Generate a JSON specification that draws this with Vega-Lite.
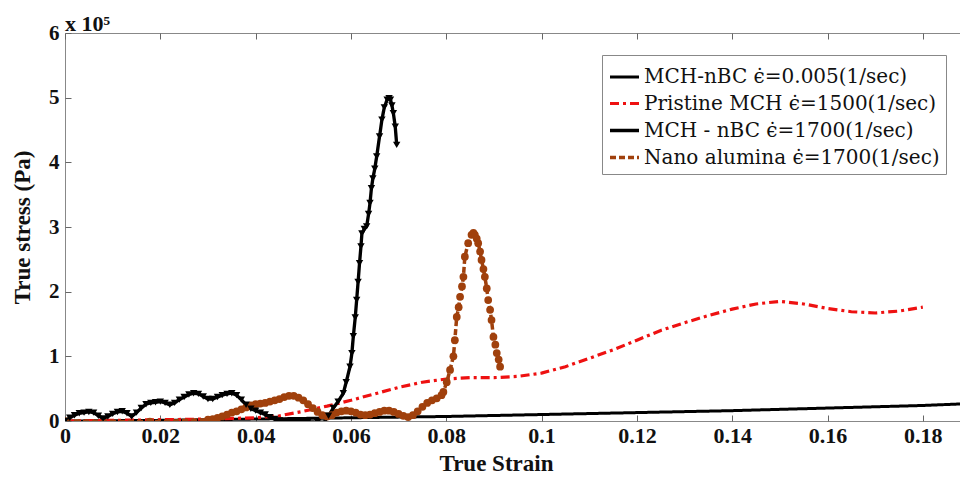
{
  "$schema": "https://vega.github.io/schema/vega-lite/v6.json",
  "width": 895,
  "height": 388,
  "autosize": {"type": "none"},
  "padding": {"left": 65, "top": 33, "right": 0, "bottom": 57},
  "background": "white",
  "title": {
    "text": "x 10⁵",
    "anchor": "start",
    "frame": "group",
    "font": "Liberation Serif",
    "fontSize": 22,
    "fontWeight": "bold",
    "color": "#111",
    "offset": -14
  },
  "config": {
    "view": {"stroke": "#888", "strokeWidth": 1},
    "axis": {
      "domain": false,
      "grid": false,
      "ticks": true,
      "tickColor": "#666",
      "tickWidth": 1,
      "tickSize": 6,
      "offset": -6,
      "zindex": 1,
      "labelFont": "Liberation Serif",
      "labelFontWeight": "bold",
      "labelColor": "#111",
      "titleFont": "Liberation Serif",
      "titleFontWeight": "bold",
      "titleColor": "#111"
    }
  },
  "resolve": {"axis": {"x": "independent"}},
  "datasets": {
    "curves": [
      {"series": "MCH-nBC ϵ̇=0.005(1/sec)", "strain": 0, "stress": 0},
      {"series": "MCH-nBC ϵ̇=0.005(1/sec)", "strain": 0.02, "stress": 1000},
      {"series": "MCH-nBC ϵ̇=0.005(1/sec)", "strain": 0.04, "stress": 3000},
      {"series": "MCH-nBC ϵ̇=0.005(1/sec)", "strain": 0.06, "stress": 5000},
      {"series": "MCH-nBC ϵ̇=0.005(1/sec)", "strain": 0.08, "stress": 7000},
      {"series": "MCH-nBC ϵ̇=0.005(1/sec)", "strain": 0.1, "stress": 10000},
      {"series": "MCH-nBC ϵ̇=0.005(1/sec)", "strain": 0.12, "stress": 13000},
      {"series": "MCH-nBC ϵ̇=0.005(1/sec)", "strain": 0.14, "stress": 16000},
      {"series": "MCH-nBC ϵ̇=0.005(1/sec)", "strain": 0.16, "stress": 20000},
      {"series": "MCH-nBC ϵ̇=0.005(1/sec)", "strain": 0.18, "stress": 24000},
      {"series": "MCH-nBC ϵ̇=0.005(1/sec)", "strain": 0.19, "stress": 27000},

      {"series": "Pristine MCH ϵ̇=1500(1/sec)", "strain": 0, "stress": 0},
      {"series": "Pristine MCH ϵ̇=1500(1/sec)", "strain": 0.01, "stress": 1000},
      {"series": "Pristine MCH ϵ̇=1500(1/sec)", "strain": 0.02, "stress": 2000},
      {"series": "Pristine MCH ϵ̇=1500(1/sec)", "strain": 0.03, "stress": 3000},
      {"series": "Pristine MCH ϵ̇=1500(1/sec)", "strain": 0.04, "stress": 5000},
      {"series": "Pristine MCH ϵ̇=1500(1/sec)", "strain": 0.045, "stress": 8000},
      {"series": "Pristine MCH ϵ̇=1500(1/sec)", "strain": 0.05, "stress": 15000},
      {"series": "Pristine MCH ϵ̇=1500(1/sec)", "strain": 0.055, "stress": 23000},
      {"series": "Pristine MCH ϵ̇=1500(1/sec)", "strain": 0.06, "stress": 32000},
      {"series": "Pristine MCH ϵ̇=1500(1/sec)", "strain": 0.065, "stress": 42000},
      {"series": "Pristine MCH ϵ̇=1500(1/sec)", "strain": 0.07, "stress": 52000},
      {"series": "Pristine MCH ϵ̇=1500(1/sec)", "strain": 0.075, "stress": 60000},
      {"series": "Pristine MCH ϵ̇=1500(1/sec)", "strain": 0.08, "stress": 65000},
      {"series": "Pristine MCH ϵ̇=1500(1/sec)", "strain": 0.085, "stress": 67000},
      {"series": "Pristine MCH ϵ̇=1500(1/sec)", "strain": 0.09, "stress": 67000},
      {"series": "Pristine MCH ϵ̇=1500(1/sec)", "strain": 0.095, "stress": 69000},
      {"series": "Pristine MCH ϵ̇=1500(1/sec)", "strain": 0.1, "stress": 74000},
      {"series": "Pristine MCH ϵ̇=1500(1/sec)", "strain": 0.105, "stress": 84000},
      {"series": "Pristine MCH ϵ̇=1500(1/sec)", "strain": 0.11, "stress": 97000},
      {"series": "Pristine MCH ϵ̇=1500(1/sec)", "strain": 0.115, "stress": 110000},
      {"series": "Pristine MCH ϵ̇=1500(1/sec)", "strain": 0.12, "stress": 125000},
      {"series": "Pristine MCH ϵ̇=1500(1/sec)", "strain": 0.125, "stress": 140000},
      {"series": "Pristine MCH ϵ̇=1500(1/sec)", "strain": 0.13, "stress": 152000},
      {"series": "Pristine MCH ϵ̇=1500(1/sec)", "strain": 0.135, "stress": 163000},
      {"series": "Pristine MCH ϵ̇=1500(1/sec)", "strain": 0.14, "stress": 173000},
      {"series": "Pristine MCH ϵ̇=1500(1/sec)", "strain": 0.145, "stress": 181000},
      {"series": "Pristine MCH ϵ̇=1500(1/sec)", "strain": 0.15, "stress": 185000},
      {"series": "Pristine MCH ϵ̇=1500(1/sec)", "strain": 0.155, "stress": 181000},
      {"series": "Pristine MCH ϵ̇=1500(1/sec)", "strain": 0.16, "stress": 174000},
      {"series": "Pristine MCH ϵ̇=1500(1/sec)", "strain": 0.165, "stress": 169000},
      {"series": "Pristine MCH ϵ̇=1500(1/sec)", "strain": 0.17, "stress": 167000},
      {"series": "Pristine MCH ϵ̇=1500(1/sec)", "strain": 0.175, "stress": 170000},
      {"series": "Pristine MCH ϵ̇=1500(1/sec)", "strain": 0.18, "stress": 176000},

      {"series": "Nano alumina ϵ̇=1700(1/sec)", "strain": 0, "stress": 0},
      {"series": "Nano alumina ϵ̇=1700(1/sec)", "strain": 0.0178, "stress": -1000},
      {"series": "Nano alumina ϵ̇=1700(1/sec)", "strain": 0.03, "stress": 2000},
      {"series": "Nano alumina ϵ̇=1700(1/sec)", "strain": 0.031, "stress": 3000},
      {"series": "Nano alumina ϵ̇=1700(1/sec)", "strain": 0.032, "stress": 5000},
      {"series": "Nano alumina ϵ̇=1700(1/sec)", "strain": 0.033, "stress": 7000},
      {"series": "Nano alumina ϵ̇=1700(1/sec)", "strain": 0.034, "stress": 10000},
      {"series": "Nano alumina ϵ̇=1700(1/sec)", "strain": 0.035, "stress": 13000},
      {"series": "Nano alumina ϵ̇=1700(1/sec)", "strain": 0.036, "stress": 15000},
      {"series": "Nano alumina ϵ̇=1700(1/sec)", "strain": 0.037, "stress": 18000},
      {"series": "Nano alumina ϵ̇=1700(1/sec)", "strain": 0.038, "stress": 21000},
      {"series": "Nano alumina ϵ̇=1700(1/sec)", "strain": 0.039, "stress": 24000},
      {"series": "Nano alumina ϵ̇=1700(1/sec)", "strain": 0.04, "stress": 26000},
      {"series": "Nano alumina ϵ̇=1700(1/sec)", "strain": 0.041, "stress": 27000},
      {"series": "Nano alumina ϵ̇=1700(1/sec)", "strain": 0.042, "stress": 28000},
      {"series": "Nano alumina ϵ̇=1700(1/sec)", "strain": 0.043, "stress": 30000},
      {"series": "Nano alumina ϵ̇=1700(1/sec)", "strain": 0.044, "stress": 32000},
      {"series": "Nano alumina ϵ̇=1700(1/sec)", "strain": 0.045, "stress": 34000},
      {"series": "Nano alumina ϵ̇=1700(1/sec)", "strain": 0.046, "stress": 37000},
      {"series": "Nano alumina ϵ̇=1700(1/sec)", "strain": 0.047, "stress": 39000},
      {"series": "Nano alumina ϵ̇=1700(1/sec)", "strain": 0.048, "stress": 39000},
      {"series": "Nano alumina ϵ̇=1700(1/sec)", "strain": 0.049, "stress": 36000},
      {"series": "Nano alumina ϵ̇=1700(1/sec)", "strain": 0.05, "stress": 32000},
      {"series": "Nano alumina ϵ̇=1700(1/sec)", "strain": 0.051, "stress": 26000},
      {"series": "Nano alumina ϵ̇=1700(1/sec)", "strain": 0.052, "stress": 20000},
      {"series": "Nano alumina ϵ̇=1700(1/sec)", "strain": 0.053, "stress": 14000},
      {"series": "Nano alumina ϵ̇=1700(1/sec)", "strain": 0.054, "stress": 9000},
      {"series": "Nano alumina ϵ̇=1700(1/sec)", "strain": 0.055, "stress": 7000},
      {"series": "Nano alumina ϵ̇=1700(1/sec)", "strain": 0.056, "stress": 9000},
      {"series": "Nano alumina ϵ̇=1700(1/sec)", "strain": 0.057, "stress": 13000},
      {"series": "Nano alumina ϵ̇=1700(1/sec)", "strain": 0.058, "stress": 15000},
      {"series": "Nano alumina ϵ̇=1700(1/sec)", "strain": 0.059, "stress": 16000},
      {"series": "Nano alumina ϵ̇=1700(1/sec)", "strain": 0.06, "stress": 15000},
      {"series": "Nano alumina ϵ̇=1700(1/sec)", "strain": 0.061, "stress": 13000},
      {"series": "Nano alumina ϵ̇=1700(1/sec)", "strain": 0.062, "stress": 10000},
      {"series": "Nano alumina ϵ̇=1700(1/sec)", "strain": 0.063, "stress": 9000},
      {"series": "Nano alumina ϵ̇=1700(1/sec)", "strain": 0.064, "stress": 10000},
      {"series": "Nano alumina ϵ̇=1700(1/sec)", "strain": 0.065, "stress": 12000},
      {"series": "Nano alumina ϵ̇=1700(1/sec)", "strain": 0.066, "stress": 14000},
      {"series": "Nano alumina ϵ̇=1700(1/sec)", "strain": 0.067, "stress": 16000},
      {"series": "Nano alumina ϵ̇=1700(1/sec)", "strain": 0.068, "stress": 16000},
      {"series": "Nano alumina ϵ̇=1700(1/sec)", "strain": 0.069, "stress": 14000},
      {"series": "Nano alumina ϵ̇=1700(1/sec)", "strain": 0.07, "stress": 11000},
      {"series": "Nano alumina ϵ̇=1700(1/sec)", "strain": 0.071, "stress": 8000},
      {"series": "Nano alumina ϵ̇=1700(1/sec)", "strain": 0.072, "stress": 6000},
      {"series": "Nano alumina ϵ̇=1700(1/sec)", "strain": 0.073, "stress": 9000},
      {"series": "Nano alumina ϵ̇=1700(1/sec)", "strain": 0.074, "stress": 15000},
      {"series": "Nano alumina ϵ̇=1700(1/sec)", "strain": 0.075, "stress": 22000},
      {"series": "Nano alumina ϵ̇=1700(1/sec)", "strain": 0.076, "stress": 28000},
      {"series": "Nano alumina ϵ̇=1700(1/sec)", "strain": 0.077, "stress": 32000},
      {"series": "Nano alumina ϵ̇=1700(1/sec)", "strain": 0.078, "stress": 35000},
      {"series": "Nano alumina ϵ̇=1700(1/sec)", "strain": 0.079, "stress": 40000},
      {"series": "Nano alumina ϵ̇=1700(1/sec)", "strain": 0.0794, "stress": 45000},
      {"series": "Nano alumina ϵ̇=1700(1/sec)", "strain": 0.0801, "stress": 60000},
      {"series": "Nano alumina ϵ̇=1700(1/sec)", "strain": 0.0808, "stress": 79000},
      {"series": "Nano alumina ϵ̇=1700(1/sec)", "strain": 0.0815, "stress": 100000},
      {"series": "Nano alumina ϵ̇=1700(1/sec)", "strain": 0.0818, "stress": 125000},
      {"series": "Nano alumina ϵ̇=1700(1/sec)", "strain": 0.0822, "stress": 161000},
      {"series": "Nano alumina ϵ̇=1700(1/sec)", "strain": 0.0826, "stress": 176000},
      {"series": "Nano alumina ϵ̇=1700(1/sec)", "strain": 0.0829, "stress": 192000},
      {"series": "Nano alumina ϵ̇=1700(1/sec)", "strain": 0.0833, "stress": 208000},
      {"series": "Nano alumina ϵ̇=1700(1/sec)", "strain": 0.0836, "stress": 223000},
      {"series": "Nano alumina ϵ̇=1700(1/sec)", "strain": 0.0839, "stress": 254000},
      {"series": "Nano alumina ϵ̇=1700(1/sec)", "strain": 0.0846, "stress": 275000},
      {"series": "Nano alumina ϵ̇=1700(1/sec)", "strain": 0.0853, "stress": 288000},
      {"series": "Nano alumina ϵ̇=1700(1/sec)", "strain": 0.0857, "stress": 291000},
      {"series": "Nano alumina ϵ̇=1700(1/sec)", "strain": 0.086, "stress": 288000},
      {"series": "Nano alumina ϵ̇=1700(1/sec)", "strain": 0.0864, "stress": 282000},
      {"series": "Nano alumina ϵ̇=1700(1/sec)", "strain": 0.0867, "stress": 275000},
      {"series": "Nano alumina ϵ̇=1700(1/sec)", "strain": 0.0871, "stress": 262000},
      {"series": "Nano alumina ϵ̇=1700(1/sec)", "strain": 0.0874, "stress": 249000},
      {"series": "Nano alumina ϵ̇=1700(1/sec)", "strain": 0.0878, "stress": 235000},
      {"series": "Nano alumina ϵ̇=1700(1/sec)", "strain": 0.0881, "stress": 223000},
      {"series": "Nano alumina ϵ̇=1700(1/sec)", "strain": 0.0885, "stress": 205000},
      {"series": "Nano alumina ϵ̇=1700(1/sec)", "strain": 0.0888, "stress": 187000},
      {"series": "Nano alumina ϵ̇=1700(1/sec)", "strain": 0.0892, "stress": 172000},
      {"series": "Nano alumina ϵ̇=1700(1/sec)", "strain": 0.0895, "stress": 156000},
      {"series": "Nano alumina ϵ̇=1700(1/sec)", "strain": 0.0899, "stress": 130000},
      {"series": "Nano alumina ϵ̇=1700(1/sec)", "strain": 0.0903, "stress": 118000},
      {"series": "Nano alumina ϵ̇=1700(1/sec)", "strain": 0.0906, "stress": 105000},
      {"series": "Nano alumina ϵ̇=1700(1/sec)", "strain": 0.091, "stress": 95000},
      {"series": "Nano alumina ϵ̇=1700(1/sec)", "strain": 0.0913, "stress": 84000},

      {"series": "MCH - nBC ϵ̇=1700(1/sec)", "strain": 0, "stress": 0},
      {"series": "MCH - nBC ϵ̇=1700(1/sec)", "strain": 0.001, "stress": 5000},
      {"series": "MCH - nBC ϵ̇=1700(1/sec)", "strain": 0.002, "stress": 9000},
      {"series": "MCH - nBC ϵ̇=1700(1/sec)", "strain": 0.003, "stress": 12000},
      {"series": "MCH - nBC ϵ̇=1700(1/sec)", "strain": 0.004, "stress": 13000},
      {"series": "MCH - nBC ϵ̇=1700(1/sec)", "strain": 0.005, "stress": 14000},
      {"series": "MCH - nBC ϵ̇=1700(1/sec)", "strain": 0.006, "stress": 13000},
      {"series": "MCH - nBC ϵ̇=1700(1/sec)", "strain": 0.007, "stress": 8000},
      {"series": "MCH - nBC ϵ̇=1700(1/sec)", "strain": 0.008, "stress": 4000},
      {"series": "MCH - nBC ϵ̇=1700(1/sec)", "strain": 0.009, "stress": 7000},
      {"series": "MCH - nBC ϵ̇=1700(1/sec)", "strain": 0.01, "stress": 11000},
      {"series": "MCH - nBC ϵ̇=1700(1/sec)", "strain": 0.011, "stress": 14000},
      {"series": "MCH - nBC ϵ̇=1700(1/sec)", "strain": 0.012, "stress": 15000},
      {"series": "MCH - nBC ϵ̇=1700(1/sec)", "strain": 0.013, "stress": 12000},
      {"series": "MCH - nBC ϵ̇=1700(1/sec)", "strain": 0.014, "stress": 7000},
      {"series": "MCH - nBC ϵ̇=1700(1/sec)", "strain": 0.015, "stress": 13000},
      {"series": "MCH - nBC ϵ̇=1700(1/sec)", "strain": 0.016, "stress": 20000},
      {"series": "MCH - nBC ϵ̇=1700(1/sec)", "strain": 0.017, "stress": 26000},
      {"series": "MCH - nBC ϵ̇=1700(1/sec)", "strain": 0.018, "stress": 28000},
      {"series": "MCH - nBC ϵ̇=1700(1/sec)", "strain": 0.019, "stress": 29000},
      {"series": "MCH - nBC ϵ̇=1700(1/sec)", "strain": 0.02, "stress": 30000},
      {"series": "MCH - nBC ϵ̇=1700(1/sec)", "strain": 0.021, "stress": 28000},
      {"series": "MCH - nBC ϵ̇=1700(1/sec)", "strain": 0.022, "stress": 25000},
      {"series": "MCH - nBC ϵ̇=1700(1/sec)", "strain": 0.023, "stress": 28000},
      {"series": "MCH - nBC ϵ̇=1700(1/sec)", "strain": 0.024, "stress": 33000},
      {"series": "MCH - nBC ϵ̇=1700(1/sec)", "strain": 0.025, "stress": 37000},
      {"series": "MCH - nBC ϵ̇=1700(1/sec)", "strain": 0.026, "stress": 41000},
      {"series": "MCH - nBC ϵ̇=1700(1/sec)", "strain": 0.027, "stress": 43000},
      {"series": "MCH - nBC ϵ̇=1700(1/sec)", "strain": 0.028, "stress": 42000},
      {"series": "MCH - nBC ϵ̇=1700(1/sec)", "strain": 0.029, "stress": 38000},
      {"series": "MCH - nBC ϵ̇=1700(1/sec)", "strain": 0.03, "stress": 34000},
      {"series": "MCH - nBC ϵ̇=1700(1/sec)", "strain": 0.031, "stress": 34000},
      {"series": "MCH - nBC ϵ̇=1700(1/sec)", "strain": 0.032, "stress": 37000},
      {"series": "MCH - nBC ϵ̇=1700(1/sec)", "strain": 0.033, "stress": 40000},
      {"series": "MCH - nBC ϵ̇=1700(1/sec)", "strain": 0.034, "stress": 42000},
      {"series": "MCH - nBC ϵ̇=1700(1/sec)", "strain": 0.035, "stress": 43000},
      {"series": "MCH - nBC ϵ̇=1700(1/sec)", "strain": 0.036, "stress": 40000},
      {"series": "MCH - nBC ϵ̇=1700(1/sec)", "strain": 0.037, "stress": 33000},
      {"series": "MCH - nBC ϵ̇=1700(1/sec)", "strain": 0.038, "stress": 25000},
      {"series": "MCH - nBC ϵ̇=1700(1/sec)", "strain": 0.039, "stress": 19000},
      {"series": "MCH - nBC ϵ̇=1700(1/sec)", "strain": 0.04, "stress": 16000},
      {"series": "MCH - nBC ϵ̇=1700(1/sec)", "strain": 0.041, "stress": 13000},
      {"series": "MCH - nBC ϵ̇=1700(1/sec)", "strain": 0.042, "stress": 10000},
      {"series": "MCH - nBC ϵ̇=1700(1/sec)", "strain": 0.043, "stress": 6000},
      {"series": "MCH - nBC ϵ̇=1700(1/sec)", "strain": 0.044, "stress": 3000},
      {"series": "MCH - nBC ϵ̇=1700(1/sec)", "strain": 0.045, "stress": 1000},
      {"series": "MCH - nBC ϵ̇=1700(1/sec)", "strain": 0.047, "stress": 0},
      {"series": "MCH - nBC ϵ̇=1700(1/sec)", "strain": 0.049, "stress": 0},
      {"series": "MCH - nBC ϵ̇=1700(1/sec)", "strain": 0.051, "stress": -1000},
      {"series": "MCH - nBC ϵ̇=1700(1/sec)", "strain": 0.053, "stress": -2000},
      {"series": "MCH - nBC ϵ̇=1700(1/sec)", "strain": 0.0542, "stress": -4000},
      {"series": "MCH - nBC ϵ̇=1700(1/sec)", "strain": 0.0553, "stress": 8000},
      {"series": "MCH - nBC ϵ̇=1700(1/sec)", "strain": 0.0563, "stress": 20000},
      {"series": "MCH - nBC ϵ̇=1700(1/sec)", "strain": 0.0573, "stress": 30000},
      {"series": "MCH - nBC ϵ̇=1700(1/sec)", "strain": 0.0584, "stress": 43000},
      {"series": "MCH - nBC ϵ̇=1700(1/sec)", "strain": 0.059, "stress": 60000},
      {"series": "MCH - nBC ϵ̇=1700(1/sec)", "strain": 0.0598, "stress": 84000},
      {"series": "MCH - nBC ϵ̇=1700(1/sec)", "strain": 0.0602, "stress": 105000},
      {"series": "MCH - nBC ϵ̇=1700(1/sec)", "strain": 0.0605, "stress": 131000},
      {"series": "MCH - nBC ϵ̇=1700(1/sec)", "strain": 0.0609, "stress": 160000},
      {"series": "MCH - nBC ϵ̇=1700(1/sec)", "strain": 0.0612, "stress": 187000},
      {"series": "MCH - nBC ϵ̇=1700(1/sec)", "strain": 0.0615, "stress": 215000},
      {"series": "MCH - nBC ϵ̇=1700(1/sec)", "strain": 0.0618, "stress": 244000},
      {"series": "MCH - nBC ϵ̇=1700(1/sec)", "strain": 0.0621, "stress": 270000},
      {"series": "MCH - nBC ϵ̇=1700(1/sec)", "strain": 0.0623, "stress": 290000},
      {"series": "MCH - nBC ϵ̇=1700(1/sec)", "strain": 0.0628, "stress": 297000},
      {"series": "MCH - nBC ϵ̇=1700(1/sec)", "strain": 0.0633, "stress": 301000},
      {"series": "MCH - nBC ϵ̇=1700(1/sec)", "strain": 0.0637, "stress": 320000},
      {"series": "MCH - nBC ϵ̇=1700(1/sec)", "strain": 0.064, "stress": 337000},
      {"series": "MCH - nBC ϵ̇=1700(1/sec)", "strain": 0.0643, "stress": 360000},
      {"series": "MCH - nBC ϵ̇=1700(1/sec)", "strain": 0.0646, "stress": 375000},
      {"series": "MCH - nBC ϵ̇=1700(1/sec)", "strain": 0.065, "stress": 390000},
      {"series": "MCH - nBC ϵ̇=1700(1/sec)", "strain": 0.0654, "stress": 409000},
      {"series": "MCH - nBC ϵ̇=1700(1/sec)", "strain": 0.066, "stress": 440000},
      {"series": "MCH - nBC ϵ̇=1700(1/sec)", "strain": 0.0665, "stress": 466000},
      {"series": "MCH - nBC ϵ̇=1700(1/sec)", "strain": 0.067, "stress": 485000},
      {"series": "MCH - nBC ϵ̇=1700(1/sec)", "strain": 0.0676, "stress": 497000},
      {"series": "MCH - nBC ϵ̇=1700(1/sec)", "strain": 0.068, "stress": 499000},
      {"series": "MCH - nBC ϵ̇=1700(1/sec)", "strain": 0.0683, "stress": 497000},
      {"series": "MCH - nBC ϵ̇=1700(1/sec)", "strain": 0.0686, "stress": 488000},
      {"series": "MCH - nBC ϵ̇=1700(1/sec)", "strain": 0.0689, "stress": 476000},
      {"series": "MCH - nBC ϵ̇=1700(1/sec)", "strain": 0.0693, "stress": 455000},
      {"series": "MCH - nBC ϵ̇=1700(1/sec)", "strain": 0.0696, "stress": 427000}
    ]
  },
  "data": {"name": "curves"},
  "encoding": {
    "y": {
      "field": "stress",
      "type": "quantitative",
      "scale": {"domain": [0, 600000], "nice": false},
      "axis": {
        "title": "True stress (Pa)",
        "titleFontSize": 23,
        "titlePadding": 14,
        "values": [0, 100000, 200000, 300000, 400000, 500000, 600000],
        "labelExpr": "format(datum.value / 100000, 'd')",
        "labelFontSize": 21,
        "labelPadding": 6
      }
    }
  },
  "layer": [
    {
      "mark": {"type": "line", "clip": true, "strokeCap": "butt"},
      "encoding": {
        "x": {
          "field": "strain",
          "type": "quantitative",
          "scale": {"domain": [0, 0.1878], "nice": false, "zero": false},
          "axis": {
            "orient": "bottom",
            "title": "True Strain",
            "titleFontSize": 23,
            "titlePadding": 6,
            "titleX": 431,
            "titleAlign": "center",
            "values": [0, 0.02, 0.04, 0.06, 0.08, 0.1, 0.12, 0.14, 0.16, 0.18],
            "format": "~g",
            "labelFontSize": 22,
            "labelPadding": 4,
            "labelFlush": false
          }
        },
        "color": {
          "field": "series",
          "type": "nominal",
          "scale": {
            "domain": ["MCH-nBC ϵ̇=0.005(1/sec)", "Pristine MCH ϵ̇=1500(1/sec)", "MCH - nBC ϵ̇=1700(1/sec)", "Nano alumina ϵ̇=1700(1/sec)"],
            "range": ["#000000", "#ee1111", "#000000", "#a0400c"]
          },
          "legend": {
            "title": null,
            "orient": "none",
            "legendX": 537,
            "legendY": 22,
            "symbolType": "stroke",
            "symbolSize": 841,
            "symbolStrokeWidth": 3,
            "labelFont": "DejaVu Serif",
            "labelFontSize": 20,
            "labelColor": "#111",
            "labelLimit": 400,
            "labelOffset": 3,
            "rowPadding": -2,
            "padding": 6,
            "strokeColor": "#888",
            "fillColor": "white",
            "offset": 0
          }
        },
        "strokeDash": {
          "field": "series",
          "type": "nominal",
          "scale": {
            "domain": ["MCH-nBC ϵ̇=0.005(1/sec)", "Pristine MCH ϵ̇=1500(1/sec)", "MCH - nBC ϵ̇=1700(1/sec)", "Nano alumina ϵ̇=1700(1/sec)"],
            "range": [[1, 0], [9, 4, 3, 4], [1, 0], [6, 3]]
          }
        },
        "strokeWidth": {
          "field": "series",
          "type": "nominal",
          "scale": {
            "domain": ["MCH-nBC ϵ̇=0.005(1/sec)", "Pristine MCH ϵ̇=1500(1/sec)", "MCH - nBC ϵ̇=1700(1/sec)", "Nano alumina ϵ̇=1700(1/sec)"],
            "range": [3, 3.5, 2, 3]
          },
          "legend": null
        }
      }
    },
    {
      "transform": [{"filter": "datum.series == 'Nano alumina ϵ̇=1700(1/sec)'"}],
      "mark": {"type": "point", "shape": "circle", "filled": true, "color": "#a0400c", "size": 60, "opacity": 1, "clip": true},
      "encoding": {
        "x": {"field": "strain", "type": "quantitative", "axis": null}
      }
    },
    {
      "transform": [{"filter": "datum.series == 'MCH - nBC ϵ̇=1700(1/sec)'"}],
      "mark": {"type": "point", "shape": "triangle-down", "filled": true, "color": "#000000", "size": 55, "opacity": 1, "clip": true},
      "encoding": {
        "x": {
          "field": "strain",
          "type": "quantitative",
          "axis": {
            "orient": "top",
            "title": null,
            "labels": false,
            "values": [0, 0.02, 0.04, 0.06, 0.08, 0.1, 0.12, 0.14, 0.16, 0.18]
          }
        }
      }
    }
  ]
}
